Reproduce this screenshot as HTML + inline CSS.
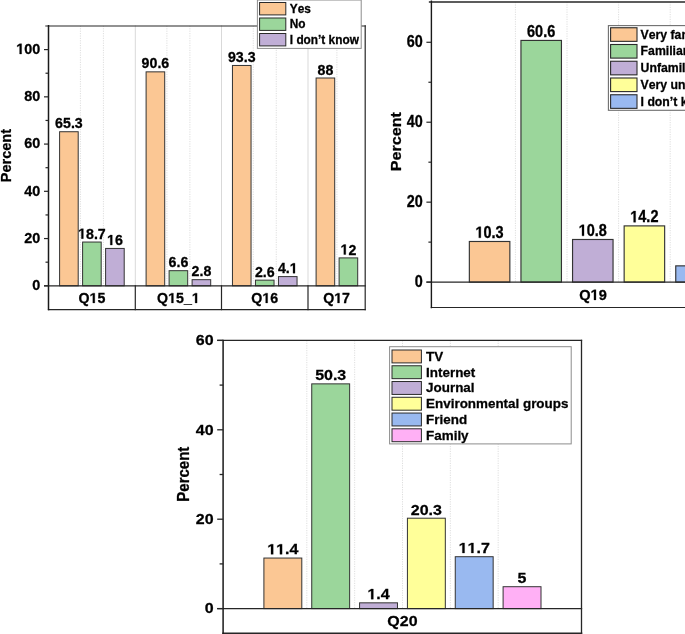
<!DOCTYPE html>
<html><head><meta charset="utf-8"><style>
html,body{margin:0;padding:0;background:#fff;overflow:hidden}
svg{display:block;will-change:transform;font-family:"Liberation Sans",sans-serif;font-kerning:none;font-feature-settings:"kern" 0;}
text{font-weight:bold;fill:#000;stroke:#000;stroke-width:0.28px;paint-order:stroke;}
.h{fill-opacity:0;stroke-opacity:0;}
path{fill:#000;stroke:#000;stroke-linejoin:miter;}
</style></head><body>
<svg width="685" height="634" viewBox="0 0 685 634">
<rect width="685" height="634" fill="#fff"/>
<line x1="135.3" y1="25.8" x2="135.3" y2="285.8" stroke="#d9d9d9" stroke-width="1" stroke-linecap="square"/>
<line x1="221.5" y1="25.8" x2="221.5" y2="285.8" stroke="#d9d9d9" stroke-width="1" stroke-linecap="square"/>
<line x1="308" y1="25.8" x2="308" y2="285.8" stroke="#d9d9d9" stroke-width="1" stroke-linecap="square"/>
<line x1="80.4" y1="25.8" x2="80.4" y2="285.8" stroke="#dedede" stroke-width="1" stroke-dasharray="1.2,1.2"/>
<line x1="103.4" y1="25.8" x2="103.4" y2="285.8" stroke="#dedede" stroke-width="1" stroke-dasharray="1.2,1.2"/>
<line x1="166.9" y1="25.8" x2="166.9" y2="285.8" stroke="#dedede" stroke-width="1" stroke-dasharray="1.2,1.2"/>
<line x1="189.9" y1="25.8" x2="189.9" y2="285.8" stroke="#dedede" stroke-width="1" stroke-dasharray="1.2,1.2"/>
<line x1="253.25" y1="25.8" x2="253.25" y2="285.8" stroke="#dedede" stroke-width="1" stroke-dasharray="1.2,1.2"/>
<line x1="276.25" y1="25.8" x2="276.25" y2="285.8" stroke="#dedede" stroke-width="1" stroke-dasharray="1.2,1.2"/>
<line x1="336.9" y1="25.8" x2="336.9" y2="285.8" stroke="#dedede" stroke-width="1" stroke-dasharray="1.2,1.2"/>
<rect x="59.6" y="131.73" width="18.6" height="154.07" fill="#FBC794" stroke="#333" stroke-width="1"/>
<text transform="translate(68.9,128.33) scale(1,1.02)" font-size="14.2" text-anchor="middle">65.3</text>
<rect x="82.6" y="242.04" width="18.6" height="43.76" fill="#9BD69B" stroke="#333" stroke-width="1"/>
<g transform="translate(91.9,238.64) scale(1,1.02)"><text font-size="14.2" text-anchor="middle"><tspan class="h">1</tspan>8.7</text>
<path transform="translate(-13.819,0) scale(0.00693,-0.00693)" d="M478,0L478,1170L140,959L140,1180L493,1409L759,1409L759,0Z" stroke-width="40.4"/>
</g>
<rect x="105.6" y="248.43" width="18.6" height="37.37" fill="#C0AED6" stroke="#333" stroke-width="1"/>
<g transform="translate(114.9,245.03) scale(1,1.02)"><text font-size="14.2" text-anchor="middle"><tspan class="h">1</tspan>6</text>
<path transform="translate(-7.897,0) scale(0.00693,-0.00693)" d="M478,0L478,1170L140,959L140,1180L493,1409L759,1409L759,0Z" stroke-width="40.4"/>
</g>
<rect x="146.1" y="71.85" width="18.6" height="213.95" fill="#FBC794" stroke="#333" stroke-width="1"/>
<text transform="translate(155.4,68.45) scale(1,1.02)" font-size="14.2" text-anchor="middle">90.6</text>
<rect x="169.1" y="270.68" width="18.6" height="15.12" fill="#9BD69B" stroke="#333" stroke-width="1"/>
<text transform="translate(178.4,267.28) scale(1,1.02)" font-size="14.2" text-anchor="middle">6.6</text>
<rect x="192.1" y="279.67" width="18.6" height="6.13" fill="#C0AED6" stroke="#333" stroke-width="1"/>
<text transform="translate(201.4,276.27) scale(1,1.02)" font-size="14.2" text-anchor="middle">2.8</text>
<rect x="232.45" y="65.46" width="18.6" height="220.34" fill="#FBC794" stroke="#333" stroke-width="1"/>
<text transform="translate(241.75,62.06) scale(1,1.02)" font-size="14.2" text-anchor="middle">93.3</text>
<rect x="255.45" y="280.15" width="18.6" height="5.65" fill="#9BD69B" stroke="#333" stroke-width="1"/>
<text transform="translate(264.75,276.75) scale(1,1.02)" font-size="14.2" text-anchor="middle">2.6</text>
<rect x="278.45" y="276.6" width="18.6" height="9.2" fill="#C0AED6" stroke="#333" stroke-width="1"/>
<g transform="translate(287.75,273.2) scale(1,1.02)"><text font-size="14.2" text-anchor="middle">4.<tspan class="h">1</tspan></text>
<path transform="translate(1.973,0) scale(0.00693,-0.00693)" d="M478,0L478,1170L140,959L140,1180L493,1409L759,1409L759,0Z" stroke-width="40.4"/>
</g>
<rect x="316.1" y="78" width="18.6" height="207.8" fill="#FBC794" stroke="#333" stroke-width="1"/>
<text transform="translate(325.4,74.6) scale(1,1.02)" font-size="14.2" text-anchor="middle">88</text>
<rect x="339.1" y="257.9" width="18.6" height="27.9" fill="#9BD69B" stroke="#333" stroke-width="1"/>
<g transform="translate(348.4,254.5) scale(1,1.02)"><text font-size="14.2" text-anchor="middle"><tspan class="h">1</tspan>2</text>
<path transform="translate(-7.897,0) scale(0.00693,-0.00693)" d="M478,0L478,1170L140,959L140,1180L493,1409L759,1409L759,0Z" stroke-width="40.4"/>
</g>
<line x1="45.8" y1="26" x2="365.2" y2="26" stroke="#262626" stroke-width="1.05" stroke-linecap="square"/>
<line x1="365.2" y1="25.8" x2="365.2" y2="309.6" stroke="#262626" stroke-width="1.2" stroke-linecap="square"/>
<line x1="48.5" y1="309.6" x2="365.2" y2="309.6" stroke="#262626" stroke-width="1.2" stroke-linecap="square"/>
<line x1="44.6" y1="285.8" x2="365.2" y2="285.8" stroke="#262626" stroke-width="1.2" stroke-linecap="square"/>
<line x1="48.5" y1="25.8" x2="48.5" y2="309.6" stroke="#1a1a1a" stroke-width="1.5" stroke-linecap="square"/>
<line x1="135.3" y1="285.8" x2="135.3" y2="309.6" stroke="#262626" stroke-width="1.2" stroke-linecap="square"/>
<line x1="221.5" y1="285.8" x2="221.5" y2="309.6" stroke="#262626" stroke-width="1.2" stroke-linecap="square"/>
<line x1="308" y1="285.8" x2="308" y2="309.6" stroke="#262626" stroke-width="1.2" stroke-linecap="square"/>
<g transform="translate(91.9,302.9) scale(1,1.0)"><text font-size="14.2" text-anchor="middle">Q<tspan class="h">1</tspan>5</text>
<path transform="translate(-2.375,0) scale(0.00693,-0.00693)" d="M478,0L478,1170L140,959L140,1180L493,1409L759,1409L759,0Z" stroke-width="40.4"/>
</g>
<g transform="translate(178.4,302.9) scale(1,1.0)"><text font-size="14.2" text-anchor="middle">Q<tspan class="h">1</tspan>5_<tspan class="h">1</tspan></text>
<path transform="translate(-10.272,0) scale(0.00693,-0.00693)" d="M478,0L478,1170L140,959L140,1180L493,1409L759,1409L759,0Z" stroke-width="40.4"/>
<path transform="translate(13.420,0) scale(0.00693,-0.00693)" d="M478,0L478,1170L140,959L140,1180L493,1409L759,1409L759,0Z" stroke-width="40.4"/>
</g>
<g transform="translate(264.75,302.9) scale(1,1.0)"><text font-size="14.2" text-anchor="middle">Q<tspan class="h">1</tspan>6</text>
<path transform="translate(-2.375,0) scale(0.00693,-0.00693)" d="M478,0L478,1170L140,959L140,1180L493,1409L759,1409L759,0Z" stroke-width="40.4"/>
</g>
<g transform="translate(336.6,302.9) scale(1,1.0)"><text font-size="14.2" text-anchor="middle">Q<tspan class="h">1</tspan>7</text>
<path transform="translate(-2.375,0) scale(0.00693,-0.00693)" d="M478,0L478,1170L140,959L140,1180L493,1409L759,1409L759,0Z" stroke-width="40.4"/>
</g>
<line x1="44" y1="285.8" x2="48.5" y2="285.8" stroke="#262626" stroke-width="1.2"/>
<text transform="translate(40.3,290.2) scale(1,1.04)" font-size="14.4" text-anchor="end">0</text>
<line x1="44" y1="238.56" x2="48.5" y2="238.56" stroke="#262626" stroke-width="1.2"/>
<text transform="translate(40.3,242.96) scale(1,1.04)" font-size="14.4" text-anchor="end">20</text>
<line x1="44" y1="191.32" x2="48.5" y2="191.32" stroke="#262626" stroke-width="1.2"/>
<text transform="translate(40.3,195.72) scale(1,1.04)" font-size="14.4" text-anchor="end">40</text>
<line x1="44" y1="144.08" x2="48.5" y2="144.08" stroke="#262626" stroke-width="1.2"/>
<text transform="translate(40.3,148.48) scale(1,1.04)" font-size="14.4" text-anchor="end">60</text>
<line x1="44" y1="96.84" x2="48.5" y2="96.84" stroke="#262626" stroke-width="1.2"/>
<text transform="translate(40.3,101.24) scale(1,1.04)" font-size="14.4" text-anchor="end">80</text>
<line x1="44" y1="49.6" x2="48.5" y2="49.6" stroke="#262626" stroke-width="1.2"/>
<g transform="translate(40.3,54) scale(1,1.04)"><text font-size="14.4" text-anchor="end"><tspan class="h">1</tspan>00</text>
<path transform="translate(-24.026,0) scale(0.00703,-0.00703)" d="M478,0L478,1170L140,959L140,1180L493,1409L759,1409L759,0Z" stroke-width="39.8"/>
</g>
<line x1="45.5" y1="262.18" x2="48.5" y2="262.18" stroke="#262626" stroke-width="1.2"/>
<line x1="45.5" y1="214.94" x2="48.5" y2="214.94" stroke="#262626" stroke-width="1.2"/>
<line x1="45.5" y1="167.7" x2="48.5" y2="167.7" stroke="#262626" stroke-width="1.2"/>
<line x1="45.5" y1="120.46" x2="48.5" y2="120.46" stroke="#262626" stroke-width="1.2"/>
<line x1="45.5" y1="73.22" x2="48.5" y2="73.22" stroke="#262626" stroke-width="1.2"/>
<text transform="translate(10.5,155.6) scale(1,0.972) rotate(-90)" font-size="14.9" text-anchor="middle">Percent</text>
<rect x="257.4" y="0" width="103.8" height="48.4" fill="#fff" stroke="#8c8c8c" stroke-width="1"/>
<rect x="259.6" y="2.5" width="26.2" height="12.4" fill="#FBC794" stroke="#2a2a2a" stroke-width="1"/>
<text transform="translate(289.8,12.8) scale(1,1.04)" font-size="11.85" text-anchor="start">Yes</text>
<rect x="259.6" y="18" width="26.2" height="12.4" fill="#9BD69B" stroke="#2a2a2a" stroke-width="1"/>
<text transform="translate(289.8,28.3) scale(1,1.04)" font-size="11.85" text-anchor="start">No</text>
<rect x="259.6" y="33.5" width="26.2" height="12.4" fill="#C0AED6" stroke="#2a2a2a" stroke-width="1"/>
<text transform="translate(289.8,43.8) scale(1,1.04)" font-size="11.85" text-anchor="start">I don’t know</text>
<line x1="515.4" y1="2" x2="515.4" y2="282.1" stroke="#dedede" stroke-width="1" stroke-dasharray="1.2,1.2"/>
<line x1="567" y1="2" x2="567" y2="282.1" stroke="#dedede" stroke-width="1" stroke-dasharray="1.2,1.2"/>
<line x1="618.6" y1="2" x2="618.6" y2="282.1" stroke="#dedede" stroke-width="1" stroke-dasharray="1.2,1.2"/>
<line x1="670.2" y1="2" x2="670.2" y2="282.1" stroke="#dedede" stroke-width="1" stroke-dasharray="1.2,1.2"/>
<rect x="469.35" y="241.48" width="40.5" height="40.62" fill="#FBC794" stroke="#333" stroke-width="1.15"/>
<g transform="translate(489.55,237.83) scale(1,1.12)"><text font-size="14.5" text-anchor="middle"><tspan class="h">1</tspan>0.3</text>
<path transform="translate(-14.111,0) scale(0.00708,-0.00708)" d="M478,0L478,1170L140,959L140,1180L493,1409L759,1409L759,0Z" stroke-width="39.5"/>
</g>
<rect x="520.95" y="40.43" width="40.5" height="241.67" fill="#9BD69B" stroke="#333" stroke-width="1.15"/>
<text transform="translate(541.15,36.78) scale(1,1.12)" font-size="14.5" text-anchor="middle">60.6</text>
<rect x="572.55" y="239.48" width="40.5" height="42.62" fill="#C0AED6" stroke="#333" stroke-width="1.15"/>
<g transform="translate(592.75,235.83) scale(1,1.12)"><text font-size="14.5" text-anchor="middle"><tspan class="h">1</tspan>0.8</text>
<path transform="translate(-14.111,0) scale(0.00708,-0.00708)" d="M478,0L478,1170L140,959L140,1180L493,1409L759,1409L759,0Z" stroke-width="39.5"/>
</g>
<rect x="624.15" y="225.89" width="40.5" height="56.21" fill="#FFFF99" stroke="#333" stroke-width="1.15"/>
<g transform="translate(644.35,222.24) scale(1,1.12)"><text font-size="14.5" text-anchor="middle"><tspan class="h">1</tspan>4.2</text>
<path transform="translate(-14.111,0) scale(0.00708,-0.00708)" d="M478,0L478,1170L140,959L140,1180L493,1409L759,1409L759,0Z" stroke-width="39.5"/>
</g>
<rect x="675.75" y="265.86" width="40.5" height="16.24" fill="#99B9F0" stroke="#333" stroke-width="1.15"/>
<line x1="429.6" y1="2" x2="760" y2="2" stroke="#262626" stroke-width="1.5" stroke-linecap="square"/>
<line x1="427" y1="282.1" x2="760" y2="282.1" stroke="#262626" stroke-width="1.2" stroke-linecap="square"/>
<line x1="431.4" y1="307.5" x2="760" y2="307.5" stroke="#262626" stroke-width="1.2" stroke-linecap="square"/>
<line x1="431.4" y1="1.3" x2="431.4" y2="307.5" stroke="#1a1a1a" stroke-width="1.4" stroke-linecap="square"/>
<line x1="426.4" y1="282.1" x2="431.4" y2="282.1" stroke="#262626" stroke-width="1.2"/>
<text transform="translate(422.7,286.9) scale(1,1.12)" font-size="14.4" text-anchor="end">0</text>
<line x1="426.4" y1="202.16" x2="431.4" y2="202.16" stroke="#262626" stroke-width="1.2"/>
<text transform="translate(422.7,206.96) scale(1,1.12)" font-size="14.4" text-anchor="end">20</text>
<line x1="426.4" y1="122.22" x2="431.4" y2="122.22" stroke="#262626" stroke-width="1.2"/>
<text transform="translate(422.7,127.02) scale(1,1.12)" font-size="14.4" text-anchor="end">40</text>
<line x1="426.4" y1="42.28" x2="431.4" y2="42.28" stroke="#262626" stroke-width="1.2"/>
<text transform="translate(422.7,47.08) scale(1,1.12)" font-size="14.4" text-anchor="end">60</text>
<line x1="428.4" y1="242.13" x2="431.4" y2="242.13" stroke="#262626" stroke-width="1.2"/>
<line x1="428.4" y1="162.19" x2="431.4" y2="162.19" stroke="#262626" stroke-width="1.2"/>
<line x1="428.4" y1="82.25" x2="431.4" y2="82.25" stroke="#262626" stroke-width="1.2"/>
<text transform="translate(400.9,141.6) scale(1,1.09) rotate(-90)" font-size="14.8" text-anchor="middle">Percent</text>
<g transform="translate(593,299.9) scale(1,1.02)"><text font-size="14.6" text-anchor="middle">Q<tspan class="h">1</tspan>9</text>
<path transform="translate(-2.442,0) scale(0.00713,-0.00713)" d="M478,0L478,1170L140,959L140,1180L493,1409L759,1409L759,0Z" stroke-width="39.3"/>
</g>
<rect x="608.4" y="25.6" width="200" height="84.7" fill="#fff" stroke="#6e6e6e" stroke-width="1.1"/>
<rect x="610.6" y="27.75" width="26.4" height="13.6" fill="#FBC794" stroke="#2a2a2a" stroke-width="1.1"/>
<text transform="translate(640.6,38.6) scale(1,1.02)" font-size="12.25" text-anchor="start">Very familiar</text>
<rect x="610.6" y="44.5" width="26.4" height="13.6" fill="#9BD69B" stroke="#2a2a2a" stroke-width="1.1"/>
<text transform="translate(640.6,55.35) scale(1,1.02)" font-size="12.25" text-anchor="start">Familiar</text>
<rect x="610.6" y="61.25" width="26.4" height="13.6" fill="#C0AED6" stroke="#2a2a2a" stroke-width="1.1"/>
<text transform="translate(640.6,72.1) scale(1,1.02)" font-size="12.25" text-anchor="start">Unfamiliar</text>
<rect x="610.6" y="78" width="26.4" height="13.6" fill="#FFFF99" stroke="#2a2a2a" stroke-width="1.1"/>
<text transform="translate(640.6,88.85) scale(1,1.02)" font-size="12.25" text-anchor="start">Very unfamiliar</text>
<rect x="610.6" y="94.75" width="26.4" height="13.6" fill="#99B9F0" stroke="#2a2a2a" stroke-width="1.1"/>
<text transform="translate(640.6,105.6) scale(1,1.02)" font-size="12.25" text-anchor="start">I don’t know</text>
<line x1="306.82" y1="340.4" x2="306.82" y2="608.6" stroke="#dedede" stroke-width="1" stroke-dasharray="1.2,1.2"/>
<line x1="354.66" y1="340.4" x2="354.66" y2="608.6" stroke="#dedede" stroke-width="1" stroke-dasharray="1.2,1.2"/>
<line x1="402.5" y1="340.4" x2="402.5" y2="608.6" stroke="#dedede" stroke-width="1" stroke-dasharray="1.2,1.2"/>
<line x1="450.34" y1="340.4" x2="450.34" y2="608.6" stroke="#dedede" stroke-width="1" stroke-dasharray="1.2,1.2"/>
<line x1="498.18" y1="340.4" x2="498.18" y2="608.6" stroke="#dedede" stroke-width="1" stroke-dasharray="1.2,1.2"/>
<rect x="263.9" y="558.05" width="37.9" height="50.55" fill="#FBC794" stroke="#333" stroke-width="1"/>
<g transform="translate(282.85,554.35) scale(1,0.92)"><text font-size="16" text-anchor="middle"><tspan class="h">1</tspan><tspan class="h">1</tspan>.4</text>
<path transform="translate(-15.570,0) scale(0.00781,-0.00781)" d="M478,0L478,1170L140,959L140,1180L493,1409L759,1409L759,0Z" stroke-width="35.8"/>
<path transform="translate(-6.672,0) scale(0.00781,-0.00781)" d="M478,0L478,1170L140,959L140,1180L493,1409L759,1409L759,0Z" stroke-width="35.8"/>
</g>
<rect x="311.74" y="383.86" width="37.9" height="224.74" fill="#9BD69B" stroke="#333" stroke-width="1"/>
<text transform="translate(330.69,380.16) scale(1,0.92)" font-size="16" text-anchor="middle">50.3</text>
<rect x="359.58" y="602.83" width="37.9" height="5.77" fill="#C0AED6" stroke="#333" stroke-width="1"/>
<g transform="translate(378.53,599.13) scale(1,0.92)"><text font-size="16" text-anchor="middle"><tspan class="h">1</tspan>.4</text>
<path transform="translate(-11.121,0) scale(0.00781,-0.00781)" d="M478,0L478,1170L140,959L140,1180L493,1409L759,1409L759,0Z" stroke-width="35.8"/>
</g>
<rect x="407.42" y="518.2" width="37.9" height="90.4" fill="#FFFF99" stroke="#333" stroke-width="1"/>
<text transform="translate(426.37,514.5) scale(1,0.92)" font-size="16" text-anchor="middle">20.3</text>
<rect x="455.26" y="556.71" width="37.9" height="51.89" fill="#99B9F0" stroke="#333" stroke-width="1"/>
<g transform="translate(474.21,553.01) scale(1,0.92)"><text font-size="16" text-anchor="middle"><tspan class="h">1</tspan><tspan class="h">1</tspan>.7</text>
<path transform="translate(-15.570,0) scale(0.00781,-0.00781)" d="M478,0L478,1170L140,959L140,1180L493,1409L759,1409L759,0Z" stroke-width="35.8"/>
<path transform="translate(-6.672,0) scale(0.00781,-0.00781)" d="M478,0L478,1170L140,959L140,1180L493,1409L759,1409L759,0Z" stroke-width="35.8"/>
</g>
<rect x="503.1" y="586.71" width="37.9" height="21.89" fill="#FFB0F5" stroke="#333" stroke-width="1"/>
<text transform="translate(522.05,583.01) scale(1,0.92)" font-size="16" text-anchor="middle">5</text>
<line x1="217.8" y1="340.4" x2="581.5" y2="340.4" stroke="#262626" stroke-width="1.3" stroke-linecap="square"/>
<line x1="581.5" y1="340.4" x2="581.5" y2="633.2" stroke="#262626" stroke-width="1.3" stroke-linecap="square"/>
<line x1="217.8" y1="608.6" x2="581.5" y2="608.6" stroke="#262626" stroke-width="1.3" stroke-linecap="square"/>
<line x1="223.1" y1="633.2" x2="581.5" y2="633.2" stroke="#262626" stroke-width="1.6" stroke-linecap="square"/>
<line x1="223.1" y1="340.4" x2="223.1" y2="634.2" stroke="#1a1a1a" stroke-width="1.5" stroke-linecap="square"/>
<line x1="217.2" y1="608.6" x2="223.1" y2="608.6" stroke="#262626" stroke-width="1.3"/>
<text transform="translate(213.6,613.3) scale(1,0.97)" font-size="16" text-anchor="end">0</text>
<line x1="217.2" y1="519.2" x2="223.1" y2="519.2" stroke="#262626" stroke-width="1.3"/>
<text transform="translate(213.6,523.9) scale(1,0.97)" font-size="16" text-anchor="end">20</text>
<line x1="217.2" y1="429.8" x2="223.1" y2="429.8" stroke="#262626" stroke-width="1.3"/>
<text transform="translate(213.6,434.5) scale(1,0.97)" font-size="16" text-anchor="end">40</text>
<line x1="217.2" y1="340.4" x2="223.1" y2="340.4" stroke="#262626" stroke-width="1.3"/>
<text transform="translate(213.6,345.1) scale(1,0.97)" font-size="16" text-anchor="end">60</text>
<line x1="219.6" y1="563.9" x2="223.1" y2="563.9" stroke="#262626" stroke-width="1.3"/>
<line x1="219.6" y1="474.5" x2="223.1" y2="474.5" stroke="#262626" stroke-width="1.3"/>
<line x1="219.6" y1="385.1" x2="223.1" y2="385.1" stroke="#262626" stroke-width="1.3"/>
<text transform="translate(189.1,474.2) scale(1,0.915) rotate(-90)" font-size="16.4" text-anchor="middle">Percent</text>
<text transform="translate(402.4,626) scale(1,0.9)" font-size="16" text-anchor="middle">Q20</text>
<rect x="389.6" y="346.7" width="181.6" height="97.2" fill="#fff" stroke="#8c8c8c" stroke-width="1"/>
<rect x="392" y="350" width="29.4" height="12.9" fill="#FBC794" stroke="#2a2a2a" stroke-width="1"/>
<text transform="translate(426.1,360.9) scale(1,1.0)" font-size="13.42" text-anchor="start">TV</text>
<rect x="392" y="365.76" width="29.4" height="12.9" fill="#9BD69B" stroke="#2a2a2a" stroke-width="1"/>
<text transform="translate(426.1,376.66) scale(1,1.0)" font-size="13.42" text-anchor="start">Internet</text>
<rect x="392" y="381.52" width="29.4" height="12.9" fill="#C0AED6" stroke="#2a2a2a" stroke-width="1"/>
<text transform="translate(426.1,392.42) scale(1,1.0)" font-size="13.42" text-anchor="start">Journal</text>
<rect x="392" y="397.28" width="29.4" height="12.9" fill="#FFFF99" stroke="#2a2a2a" stroke-width="1"/>
<text transform="translate(426.1,408.18) scale(1,1.0)" font-size="13.42" text-anchor="start">Environmental groups</text>
<rect x="392" y="413.04" width="29.4" height="12.9" fill="#99B9F0" stroke="#2a2a2a" stroke-width="1"/>
<text transform="translate(426.1,423.94) scale(1,1.0)" font-size="13.42" text-anchor="start">Friend</text>
<rect x="392" y="428.8" width="29.4" height="12.9" fill="#FFB0F5" stroke="#2a2a2a" stroke-width="1"/>
<text transform="translate(426.1,439.7) scale(1,1.0)" font-size="13.42" text-anchor="start">Family</text>
</svg></body></html>
